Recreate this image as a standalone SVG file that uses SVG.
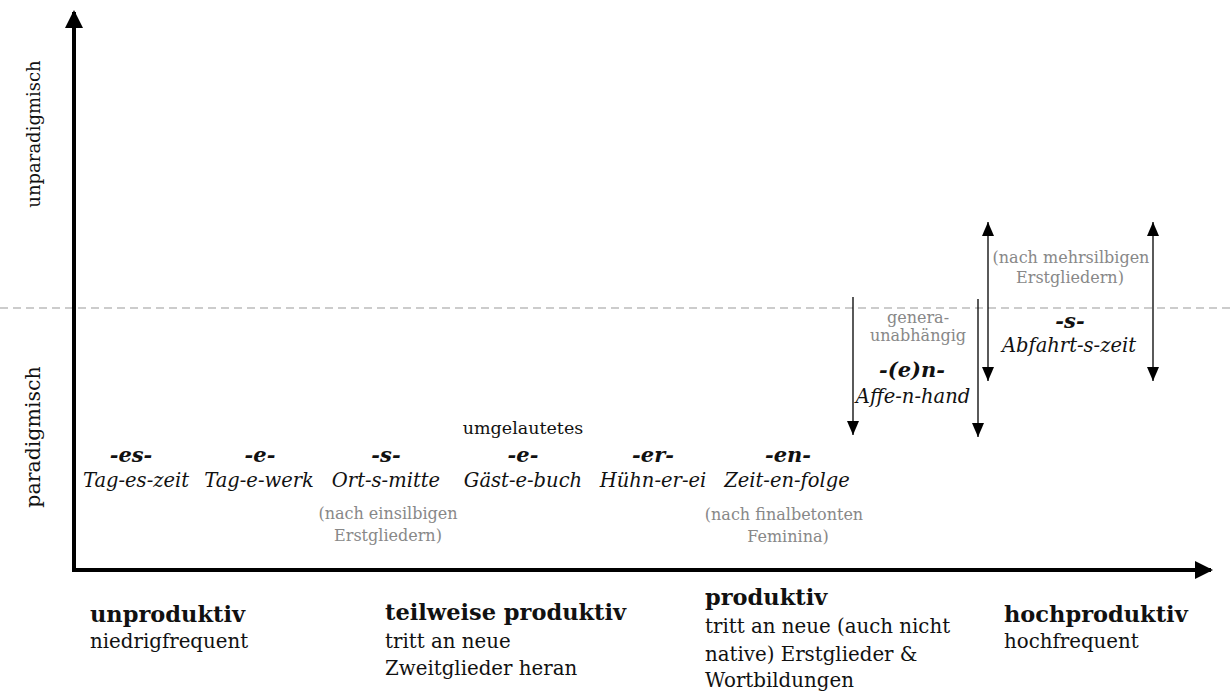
<svg xmlns="http://www.w3.org/2000/svg" width="1230" height="693" viewBox="0 0 1230 693">
<style>
  text { font-family: "DejaVu Serif", Georgia, serif; fill: #111; }
  .bi { font-weight: bold; font-style: italic; font-size: 21px; text-anchor: middle; }
  .it { font-style: italic; font-size: 19.5px; text-anchor: middle; }
  .gr { fill: #888; font-size: 16px; text-anchor: middle; }
  .hd { font-weight: bold; font-size: 22.5px; }
  .bd { font-size: 19.8px; }
  .ax { stroke: #000; stroke-width: 4; fill: none; }
  .thin { stroke: #000; stroke-width: 1.3; fill: none; }
</style>
<defs>
  <marker id="ah" markerUnits="userSpaceOnUse" markerWidth="14" markerHeight="12" refX="14" refY="6" orient="auto-start-reverse">
    <path d="M0,0 L14,6 L0,12 z" fill="#000"/>
  </marker>
  <marker id="big" markerUnits="userSpaceOnUse" markerWidth="18" markerHeight="18" refX="16" refY="9" orient="auto">
    <path d="M0,0 L18,9 L0,18 z" fill="#000"/>
  </marker>
</defs>
<rect width="1230" height="693" fill="#fff"/>

<g id="connectors">
  <line x1="0" y1="308" x2="1230" y2="308" stroke="#999" stroke-width="1" stroke-dasharray="8,5"/>
  <line class="ax" x1="74" y1="572" x2="74" y2="12" marker-end="url(#big)"/>
  <line class="ax" x1="72" y1="570" x2="1211" y2="570" marker-end="url(#big)"/>
  <line class="thin" x1="853" y1="297" x2="853" y2="435" marker-end="url(#ah)"/>
  <line class="thin" x1="978" y1="299" x2="978" y2="437" marker-end="url(#ah)"/>
  <line class="thin" x1="988" y1="222" x2="988" y2="381" marker-start="url(#ah)" marker-end="url(#ah)"/>
  <line class="thin" x1="1153" y1="222" x2="1153" y2="381" marker-start="url(#ah)" marker-end="url(#ah)"/>
</g>

<g id="axis-labels">
  <text transform="translate(40,134) rotate(-90)" font-size="18" text-anchor="middle">unparadigmisch</text>
  <text transform="translate(40,437) rotate(-90)" font-size="20.5" text-anchor="middle">paradigmisch</text>
</g>

<g id="node-es">
  <text class="bi" x="131" y="462">-es-</text>
  <text class="it" x="136" y="487">Tag-es-zeit</text>
</g>
<g id="node-e">
  <text class="bi" x="260" y="462">-e-</text>
  <text class="it" x="259" y="487">Tag-e-werk</text>
</g>
<g id="node-s1">
  <text class="bi" x="386" y="462">-s-</text>
  <text class="it" x="386" y="487">Ort-s-mitte</text>
  <text class="gr" x="388" y="519">(nach einsilbigen</text>
  <text class="gr" x="388" y="541">Erstgliedern)</text>
</g>
<g id="node-umlaut-e">
  <text x="523" y="434" font-size="17.5" text-anchor="middle">umgelautetes</text>
  <text class="bi" x="523" y="462">-e-</text>
  <text class="it" x="523" y="487">Gäst-e-buch</text>
</g>
<g id="node-er">
  <text class="bi" x="653" y="462">-er-</text>
  <text class="it" x="653" y="487">Hühn-er-ei</text>
</g>
<g id="node-en">
  <text class="bi" x="788" y="462">-en-</text>
  <text class="it" x="787" y="487">Zeit-en-folge</text>
  <text class="gr" x="784" y="520">(nach finalbetonten</text>
  <text class="gr" x="788" y="542">Feminina)</text>
</g>
<g id="node-e-n">
  <text class="gr" x="918" y="323" font-size="15">genera-</text>
  <text class="gr" x="918" y="341" font-size="15">unabhängig</text>
  <text class="bi" x="912" y="377" font-size="22">-(e)n-</text>
  <text class="it" x="913" y="403">Affe-n-hand</text>
</g>
<g id="node-s2">
  <text class="gr" x="1071" y="263">(nach mehrsilbigen</text>
  <text class="gr" x="1070" y="283">Erstgliedern)</text>
  <text class="bi" x="1070" y="328">-s-</text>
  <text class="it" x="1069" y="352">Abfahrt-s-zeit</text>
</g>

<g id="cat-unproduktiv">
  <text class="hd" x="90" y="622">unproduktiv</text>
  <text class="bd" x="90" y="648">niedrigfrequent</text>
</g>
<g id="cat-teilweise">
  <text class="hd" x="385" y="620">teilweise produktiv</text>
  <text class="bd" x="385" y="648">tritt an neue</text>
  <text class="bd" x="385" y="675">Zweitglieder heran</text>
</g>
<g id="cat-produktiv">
  <text class="hd" x="705" y="605">produktiv</text>
  <text class="bd" x="705" y="633">tritt an neue (auch nicht</text>
  <text class="bd" x="705" y="661">native) Erstglieder &amp;</text>
  <text class="bd" x="705" y="687">Wortbildungen</text>
</g>
<g id="cat-hochproduktiv">
  <text class="hd" x="1004" y="622">hochproduktiv</text>
  <text class="bd" x="1004" y="648">hochfrequent</text>
</g>
</svg>
